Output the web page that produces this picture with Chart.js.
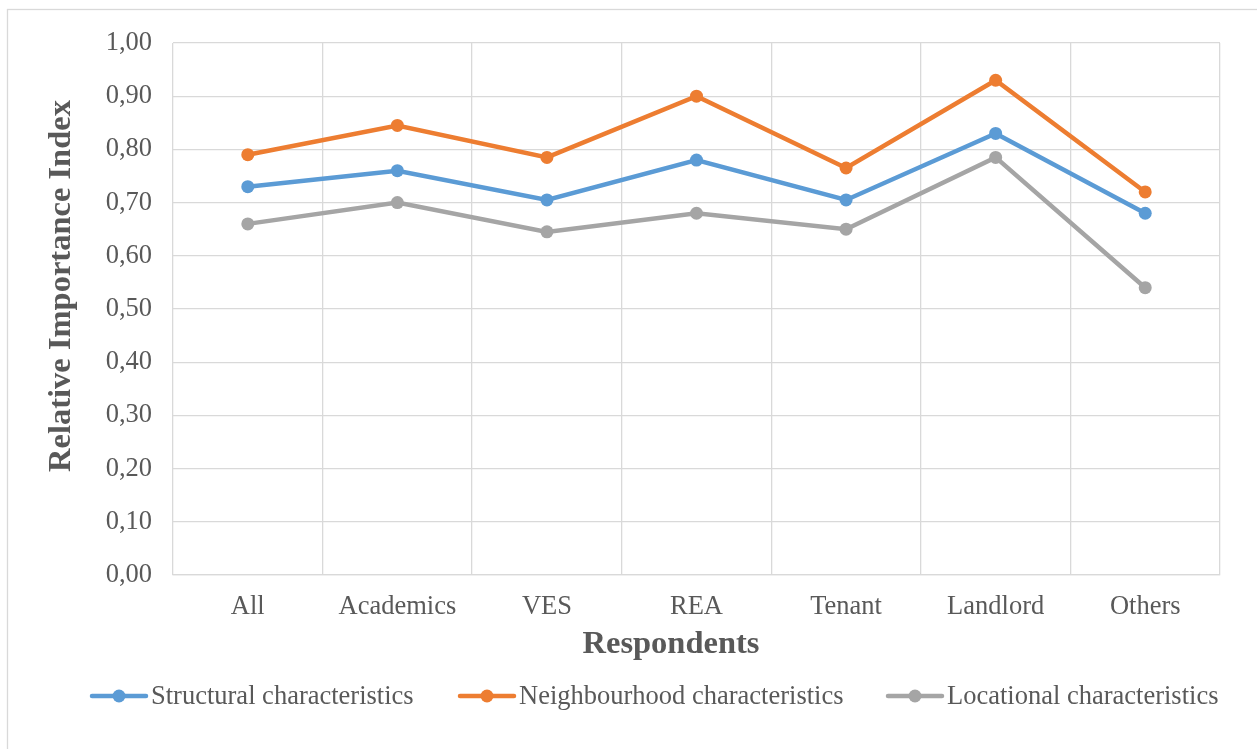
<!DOCTYPE html>
<html>
<head>
<meta charset="utf-8">
<script src="https://cdn.jsdelivr.net/npm/chart.js@4.4.1/dist/chart.umd.min.js"></script>
<style>
  html, body { margin: 0; padding: 0; background: #fff; }
  #wrap { width: 1257px; height: 749px; position: relative; }
</style>
</head>
<body>
<div id="wrap"><canvas id="c" width="1257" height="749"></canvas></div>
<script>
const respondents = ['All', 'Academics', 'VES', 'REA', 'Tenant', 'Landlord', 'Others'];
const structural = [0.73, 0.76, 0.705, 0.78, 0.705, 0.83, 0.68];
const neighbourhood = [0.79, 0.845, 0.785, 0.90, 0.765, 0.93, 0.72];
const locational = [0.66, 0.70, 0.645, 0.68, 0.65, 0.785, 0.54];
const seriesNames = ['Structural characteristics', 'Neighbourhood characteristics', 'Locational characteristics'];
const seriesColors = ['#5B9BD5', '#ED7D31', '#A5A5A5'];
const xTitle = 'Respondents';
const yTitle = 'Relative Importance Index';

const FONT = '"Liberation Serif", "Times New Roman", serif';
const TEXT = '#595959';
const GRID = '#D9D9D9';
const LABEL_SIZE = 26.5;
const TITLE_SIZE = 32.5;

function series(i, values) {
  return {
    label: seriesNames[i],
    data: values,
    borderColor: seriesColors[i],
    backgroundColor: seriesColors[i],
    borderWidth: 4.5,
    pointRadius: 6.5,
    pointHoverRadius: 6.5,
    pointBorderWidth: 0,
    tension: 0
  };
}

// Outer frame of the chart area
const framePlugin = {
  id: 'frame',
  beforeDraw(chart) {
    const ctx = chart.ctx;
    ctx.save();
    ctx.fillStyle = '#fff';
    ctx.fillRect(0, 0, chart.width, chart.height);
    ctx.strokeStyle = GRID;
    ctx.lineWidth = 1.3;
    ctx.strokeRect(7.5, 9.5, chart.width + 20, chart.height + 20);
    ctx.restore();
  }
};

// Axis titles, placed relative to the whole chart box
const axisTitles = {
  id: 'axisTitles',
  afterDraw(chart) {
    const ctx = chart.ctx;
    ctx.save();
    ctx.font = 'bold ' + TITLE_SIZE + 'px ' + FONT;
    ctx.fillStyle = TEXT;
    ctx.textAlign = 'center';
    ctx.textBaseline = 'middle';
    ctx.fillText(xTitle, 671, 645);
    ctx.translate(62, 286);
    ctx.rotate(-Math.PI / 2);
    ctx.fillText(yTitle, 0, 0);
    ctx.restore();
  }
};

// Legend with line-and-marker swatches
const lineLegend = {
  id: 'lineLegend',
  afterDraw(chart) {
    const ctx = chart.ctx;
    const y = 696;
    const starts = [92, 460, 888];
    ctx.save();
    ctx.font = LABEL_SIZE + 'px ' + FONT;
    ctx.textBaseline = 'middle';
    chart.data.datasets.forEach((ds, i) => {
      const x = starts[i];
      ctx.strokeStyle = ds.borderColor;
      ctx.lineWidth = 4.5;
      ctx.lineCap = 'round';
      ctx.beginPath();
      ctx.moveTo(x, y);
      ctx.lineTo(x + 54, y);
      ctx.stroke();
      ctx.fillStyle = ds.borderColor;
      ctx.beginPath();
      ctx.arc(x + 27, y, 6.5, 0, Math.PI * 2);
      ctx.fill();
      ctx.fillStyle = TEXT;
      ctx.textAlign = 'left';
      ctx.fillText(ds.label, x + 59, y + 1);
    });
    ctx.restore();
  }
};

new Chart(document.getElementById('c'), {
  type: 'line',
  data: {
    labels: respondents,
    datasets: [series(0, structural), series(1, neighbourhood), series(2, locational)]
  },
  plugins: [framePlugin, axisTitles, lineLegend],
  options: {
    responsive: false,
    animation: false,
    devicePixelRatio: 1,
    layout: { padding: { top: 43, right: 37, bottom: 84, left: 38 } },
    plugins: {
      legend: { display: false },
      tooltip: { enabled: false }
    },
    scales: {
      x: {
        offset: true,
        grid: { color: GRID, lineWidth: 1.3, offset: true, drawTicks: false },
        border: { color: GRID, width: 1.3 },
        ticks: { color: TEXT, font: { family: FONT, size: LABEL_SIZE }, padding: 16, maxRotation: 0 },
        title: { display: false },
        afterFit(scale) { scale.height = 90; }
      },
      y: {
        min: 0, max: 1,
        ticks: {
          stepSize: 0.1, color: TEXT, font: { family: FONT, size: LABEL_SIZE }, padding: 21,
          callback: v => v.toFixed(2).replace('.', ',')
        },
        grid: { color: GRID, lineWidth: 1.3, drawTicks: false },
        border: { display: false },
        title: { display: false },
        afterFit(scale) { scale.width = 135; }
      }
    }
  }
});
</script>
</body>
</html>
